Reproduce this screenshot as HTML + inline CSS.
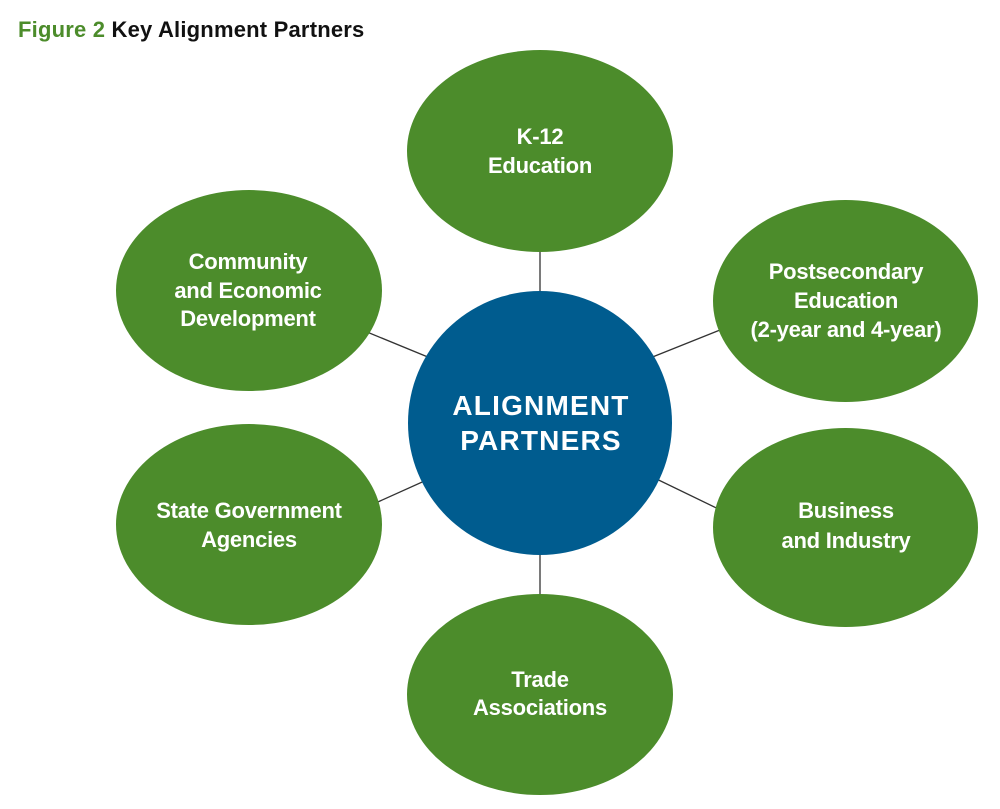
<!DOCTYPE html>
<html>
<head>
<meta charset="utf-8">
<style>
html,body{margin:0;padding:0;background:#fff;}
svg{display:block;}
text{font-family:"Liberation Sans",sans-serif;font-weight:bold;}
.lbl{fill:#fff;font-size:22px;letter-spacing:-0.25px;}
</style>
</head>
<body>
<svg width="1000" height="809" viewBox="0 0 1000 809" xmlns="http://www.w3.org/2000/svg">
<rect width="1000" height="809" fill="#fff"/>
<text x="18" y="37" font-size="22" letter-spacing="0.2"><tspan fill="#4c8c2b">Figure 2</tspan><tspan fill="#111"> Key Alignment Partners</tspan></text>

<g stroke="#333" stroke-width="1.3">
<line x1="540" y1="240" x2="540" y2="300"/>
<line x1="540" y1="545" x2="540" y2="605"/>
<line x1="350" y1="325" x2="440" y2="362"/>
<line x1="360" y1="510" x2="440" y2="474"/>
<line x1="640" y1="362" x2="735" y2="324"/>
<line x1="640" y1="471" x2="735" y2="517"/>
</g>

<g fill="#4c8c2b">
<ellipse cx="540" cy="151" rx="133" ry="101"/>
<ellipse cx="845.5" cy="301" rx="132.5" ry="101"/>
<ellipse cx="845.5" cy="527.5" rx="132.5" ry="99.5"/>
<ellipse cx="540" cy="694.5" rx="133" ry="100.5"/>
<ellipse cx="249" cy="524.5" rx="133" ry="100.5"/>
<ellipse cx="249" cy="290.5" rx="133" ry="100.5"/>
</g>
<circle cx="540" cy="423" r="132" fill="#005c8f"/>

<g text-anchor="middle" class="lbl">
<text class="lbl" x="540" y="144">K-12</text>
<text class="lbl" x="540" y="173">Education</text>

<text class="lbl" x="846" y="279">Postsecondary</text>
<text class="lbl" x="846" y="308">Education</text>
<text class="lbl" x="846" y="337">(2-year and 4-year)</text>

<text class="lbl" x="846" y="518">Business</text>
<text class="lbl" x="846" y="548">and Industry</text>

<text class="lbl" x="540" y="687">Trade</text>
<text class="lbl" x="540" y="715">Associations</text>

<text class="lbl" x="249" y="518">State Government</text>
<text class="lbl" x="249" y="547">Agencies</text>

<text class="lbl" x="248" y="269">Community</text>
<text class="lbl" x="248" y="298">and Economic</text>
<text class="lbl" x="248" y="326">Development</text>

<text x="541" y="415" fill="#fff" font-size="28" letter-spacing="1.2">ALIGNMENT</text>
<text x="541" y="450" fill="#fff" font-size="28" letter-spacing="1.2">PARTNERS</text>
</g>
</svg>
</body>
</html>
